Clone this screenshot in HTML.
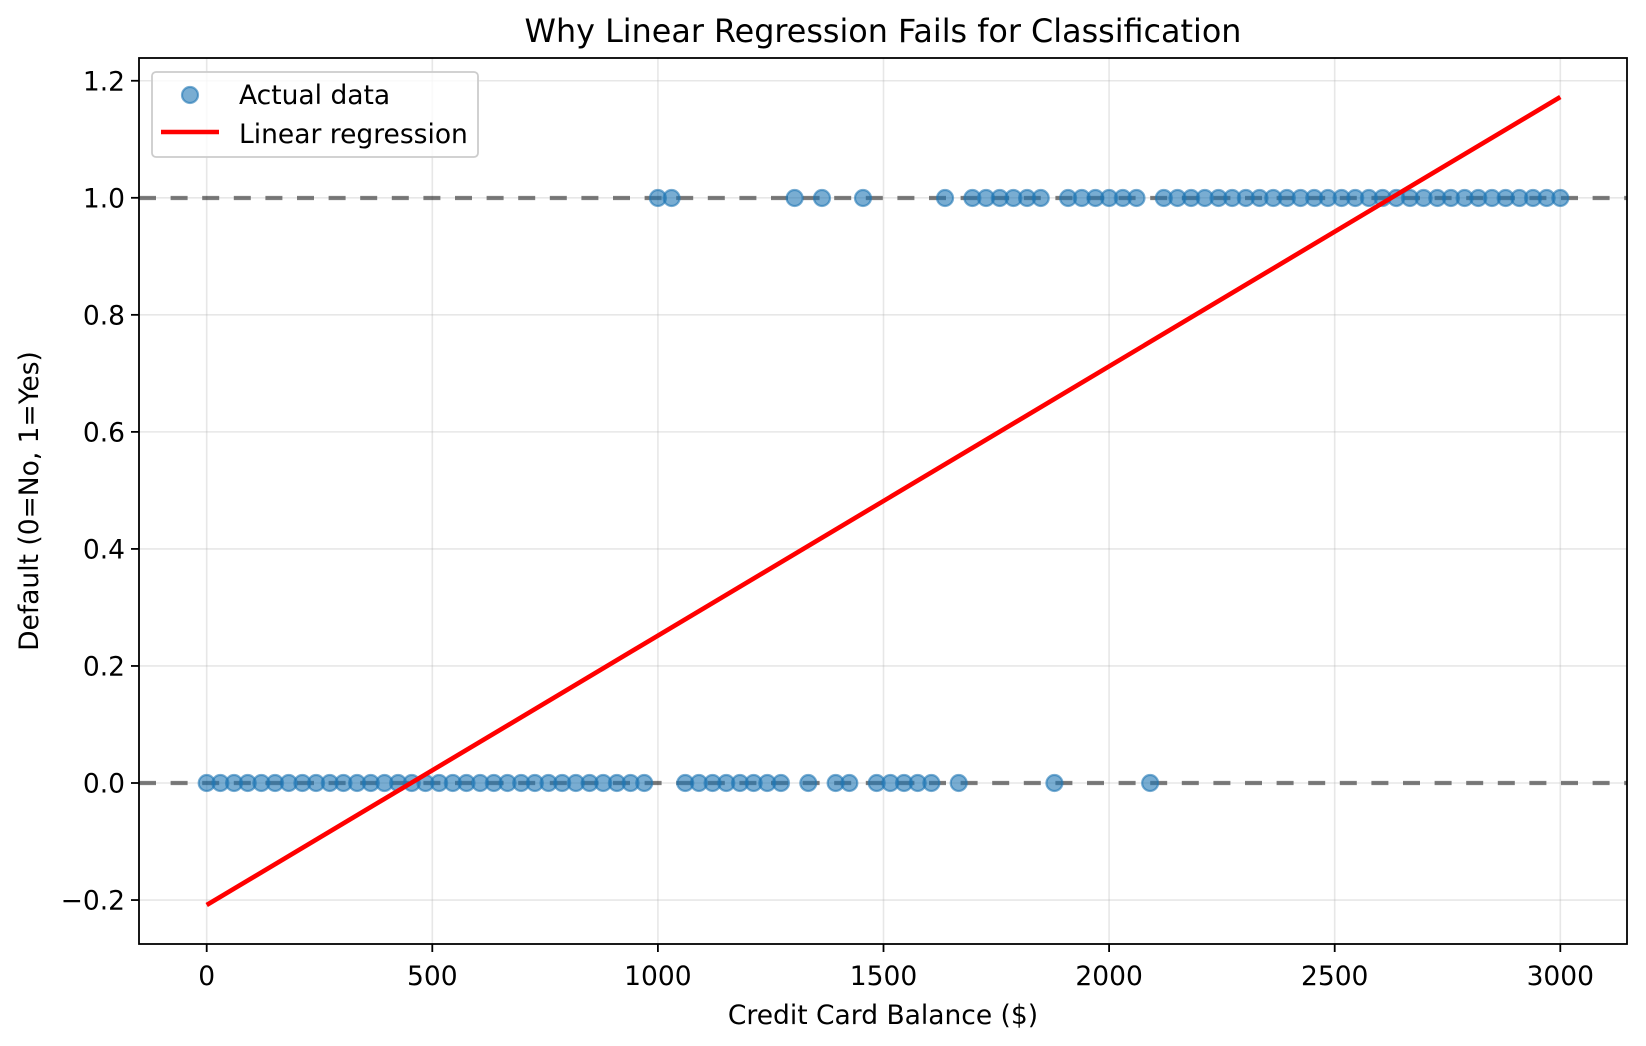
<!DOCTYPE html>
<html><head><meta charset="utf-8"><style>
html,body{margin:0;padding:0;background:#fff;}
svg{display:block;font-family:"DejaVu Sans","Liberation Sans",sans-serif;}
</style></head><body>
<svg id="s" width="1646" height="1046" viewBox="0 0 1646 1046" xmlns="http://www.w3.org/2000/svg">
<rect width="1646" height="1046" fill="#fff"/>
<g id="grid" stroke="#b0b0b0" stroke-opacity="0.3" stroke-width="1.6"></g>
<g id="hl" stroke="#000" stroke-opacity="0.5" stroke-width="4.2" stroke-dasharray="17,14.6">
<line x1="139" y1="198" x2="1627" y2="198"/>
<line x1="139" y1="783" x2="1627" y2="783"/>
</g>
<g id="pts" fill="#1f77b4" fill-opacity="0.6" stroke="#1f77b4" stroke-opacity="0.6" stroke-width="2.2"></g>
<line x1="206.7" y1="905" x2="1560.3" y2="97" stroke="#ff0000" stroke-width="4.6"/>
<rect x="139" y="58" width="1488" height="886" fill="none" stroke="#000" stroke-width="1.8"/>
<g id="ticks" stroke="#000" stroke-width="1.8"></g>
<g id="lab" font-size="26.5" fill="#000"></g>
<text x="883" y="42" font-size="31.8" text-anchor="middle">Why Linear Regression Fails for Classification</text>
<text x="883" y="1024" font-size="26.5" text-anchor="middle">Credit Card Balance ($)</text>
<text transform="translate(38,501) rotate(-90)" font-size="26.5" text-anchor="middle">Default (0=No, 1=Yes)</text>
<rect x="152" y="72" width="326" height="85" rx="4" fill="#fff" fill-opacity="0.8" stroke="#cccccc" stroke-width="1.8"/>
<circle cx="190" cy="95" r="8" fill="#1f77b4" fill-opacity="0.6" stroke="#1f77b4" stroke-opacity="0.6" stroke-width="2.2"/>
<line x1="161" y1="132" x2="219" y2="132" stroke="#ff0000" stroke-width="4.6"/>
<text x="239" y="104" font-size="26.5">Actual data</text>
<text x="239" y="143" font-size="26.5">Linear regression</text>
</svg>
<script>
var NS="http://www.w3.org/2000/svg";
function el(p,t,a,txt){var e=document.createElementNS(NS,t);for(var k in a)e.setAttribute(k,a[k]);if(txt!=null)e.textContent=txt;document.getElementById(p).appendChild(e);}
function X(v){return 206.7+v*0.4512;}
function Y(v){return 783-v*585.2;}
[0,500,1000,1500,2000,2500,3000].forEach(function(v){var x=X(v);
el("grid","line",{x1:x,y1:58,x2:x,y2:944});
el("ticks","line",{x1:x,y1:944,x2:x,y2:952});
el("lab","text",{x:x,y:985,"text-anchor":"middle"},String(v));});
[-0.2,0,0.2,0.4,0.6,0.8,1.0,1.2].forEach(function(v){var y=Y(v);
el("grid","line",{x1:139,y1:y,x2:1627,y2:y});
el("ticks","line",{x1:131,y1:y,x2:139,y2:y});
el("lab","text",{x:125,y:y+9.5,"text-anchor":"end"},(v<0?"\u2212":"")+Math.abs(v).toFixed(1));});
var ones={33:1,34:1,43:1,45:1,48:1,54:1,56:1,57:1,58:1,59:1,60:1,61:1,63:1,64:1,65:1,66:1,67:1,68:1};
for(var i=70;i<100;i++)ones[i]=1;
for(var i=0;i<100;i++){el("pts","circle",{cx:206.7+i*13.673,cy:ones[i]?198:783,r:8});}
</script>
</body></html>
